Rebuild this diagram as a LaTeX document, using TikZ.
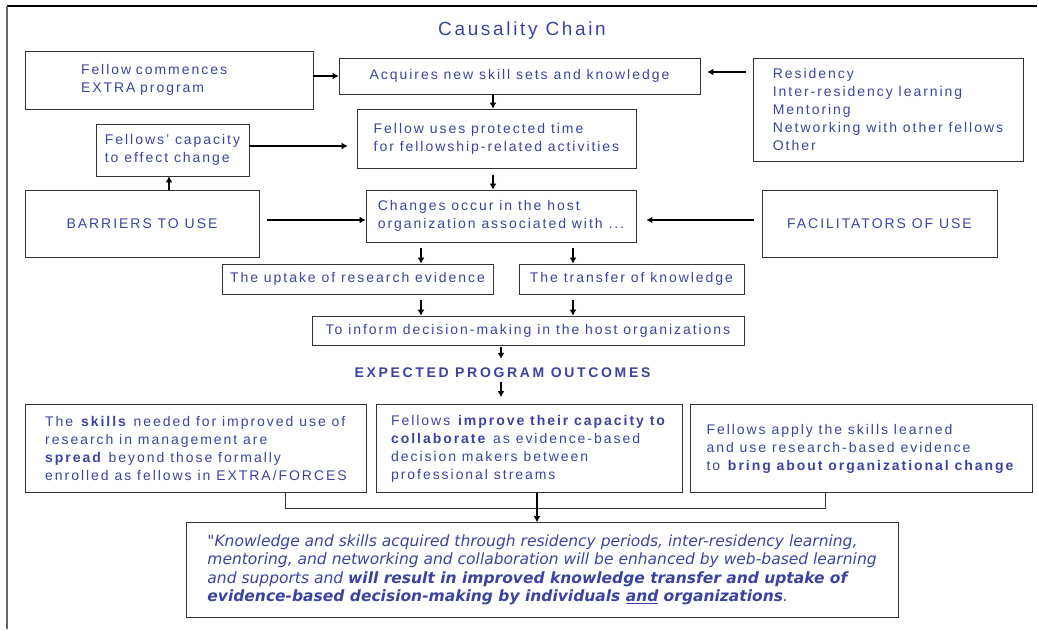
\documentclass[tikz,border=0pt]{standalone}
\usepackage{fontspec}
\setmainfont{Liberation Sans}[LetterSpace=14]
\newfontfamily\quotefont{DejaVu Sans}[ItalicFont={DejaVu Sans Oblique}, BoldFont={DejaVu Sans Bold}, BoldItalicFont={DejaVu Sans Bold Oblique}]
\usetikzlibrary{arrows.meta}
\definecolor{txtblue}{RGB}{58,68,160}
\tikzset{
  box/.style={draw=black!80, line width=0.8pt, inner sep=0pt, align=left, text=txtblue, font=\fontsize{14}{18}\selectfont},
  flow/.style={->, line width=1.6pt},
}
\begin{document}
\begin{tikzpicture}[x=1pt, y=-1pt, >={Latex[length=6pt,width=7pt]}]
    \useasboundingbox (0,0) rectangle (1038,629);
    \draw[line width=1.2pt] (7,6)--(1037,6);
    \draw[black!60, line width=1.6pt] (7,6)--(7,629);
    \node[text=txtblue, font=\fontsize{19}{22}\selectfont] (title) at (522,31) {Causality Chain};

    \node[box, minimum width=288pt, minimum height=58pt, text width=176pt] (commence) at (169,80) {Fellow commences\\EXTRA program};
    \node[box, minimum width=361pt, minimum height=36pt] (acquire) at (519.5,76) {Acquires new skill sets and knowledge};
    \node[box, minimum width=270pt, minimum height=103pt] (resid) at (888,109.5) {Residency\\Inter-residency learning\\Mentoring\\Networking with other fellows\\Other};
    \node[box, minimum width=279pt, minimum height=59pt] (uses) at (496.5,138.5) {Fellow uses protected time\\for fellowship-related activities};
    \node[box, minimum width=153pt, minimum height=52pt] (capacity) at (172.5,150) {Fellows’ capacity\\to effect change};
    \node[box, minimum width=234pt, minimum height=67pt] (barriers) at (142,223.5) {BARRIERS TO USE};
    \node[box, minimum width=270pt, minimum height=52pt] (changes) at (501,216) {Changes occur in the host\\organization associated with ...};
    \node[box, minimum width=235pt, minimum height=67pt] (facil) at (879.5,223.5) {FACILITATORS OF USE};
    \node[box, minimum width=271pt, minimum height=30pt] (uptake) at (357.5,279) {The uptake of research evidence};
    \node[box, minimum width=225pt, minimum height=30pt] (transfer) at (631.5,279) {The transfer of knowledge};
    \node[box, minimum width=432pt, minimum height=29pt] (inform) at (528,330.5) {To inform decision-making in the host organizations};
    \node[text=txtblue, inner sep=0pt, font=\fontsize{14}{16}\selectfont\bfseries\addfontfeature{LetterSpace=19}] (outcomes) at (502.5,373) {EXPECTED PROGRAM OUTCOMES};

    \node[box, minimum width=341pt, minimum height=88pt] (skills) at (196,448.5) {The \textbf{skills} needed for improved use of\\research in management are\\\textbf{spread} beyond those formally\\enrolled as fellows in EXTRA/FORCES};
    \node[box, minimum width=306pt, minimum height=88pt] (collab) at (529,448.5) {Fellows \textbf{improve their capacity to}\\\textbf{collaborate} as evidence-based\\decision makers between\\professional streams};
    \node[box, minimum width=342pt, minimum height=88pt] (change) at (861,448.5) {Fellows apply the skills learned\\and use research-based evidence\\to \textbf{bring about organizational change}};
    \node[box, minimum width=712pt, minimum height=95pt, font=\quotefont\itshape\fontsize{15.5}{18.5}\selectfont] (quote) at (542,570) {"Knowledge and skills acquired through residency periods, inter-residency learning,\\mentoring, and networking and collaboration will be enhanced by web-based learning\\and supports and \textbf{will result in improved knowledge transfer and uptake of}\\\textbf{evidence-based decision-making by individuals \underline{and} organizations}.};

    \draw[flow] (commence.east |- acquire.west)--(acquire.west);
    \draw[flow, shorten <=7pt, shorten >=7pt] (resid.west |- 0,72)--(acquire.east |- 0,72);
    \draw[flow] (493,0 |- acquire.south)--(493,0 |- uses.north);
    \draw[flow, shorten >=9pt] (capacity.east |- 0,146)--(uses.west |- 0,146);
    \draw[flow] (169,0 |- barriers.north)--(169,0 |- capacity.south);
    \draw[flow, shorten <=7pt] (493,0 |- uses.south)--(493,0 |- changes.north);
    \draw[flow, shorten <=8pt] (barriers.east |- 0,220)--(changes.west |- 0,220);
    \draw[flow, shorten <=8pt, shorten >=10pt] (facil.west |- 0,220)--(changes.east |- 0,220);
    \draw[flow, shorten <=6pt] (421,0 |- changes.south)--(421,0 |- uptake.north);
    \draw[flow, shorten <=6pt] (573,0 |- changes.south)--(573,0 |- transfer.north);
    \draw[flow, shorten <=6pt] (421,0 |- uptake.south)--(421,0 |- inform.north);
    \draw[flow, shorten <=6pt] (573,0 |- transfer.south)--(573,0 |- inform.north);
    \draw[flow, shorten <=2pt, shorten >=9pt] (501,0 |- inform.south)--(501,0 |- outcomes.north);
    \draw[flow, shorten <=4pt, shorten >=7pt] (501,0 |- outcomes.south)--(501,0 |- collab.north);
    \draw[black!80, line width=0.8pt] (285,0 |- skills.south)--(285,508)--(825,508)--(825,0 |- change.south);
    \draw[flow] (537,0 |- collab.south)--(537,0 |- quote.north);
\end{tikzpicture}
\end{document}
